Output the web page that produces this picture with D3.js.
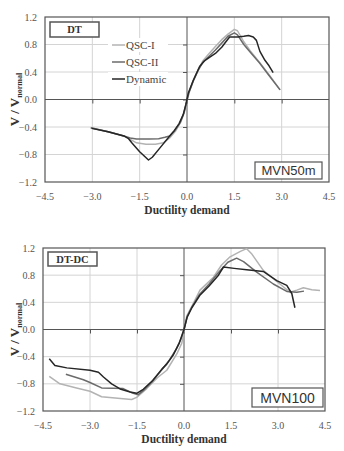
<!DOCTYPE html>
<html><head><meta charset="utf-8">
<script src="https://cdn.jsdelivr.net/npm/d3@7"></script>
<style>html,body{margin:0;padding:0;background:#fff}svg{display:block}</style>
</head><body>
<svg id="c" width="344" height="451"></svg>
<script>
// ---------- DATA ----------
const xTicks = [-4.5, -3.0, -1.5, 0.0, 1.5, 3.0, 4.5];
const yTicks = [-1.2, -0.8, -0.4, 0.0, 0.4, 0.8, 1.2];
const seriesNames = ["QSC-I", "QSC-II", "Dynamic"];

// Chart 1: DT, MVN50m  [ductility, V/Vnormal]
const dt_qsc1 = [[-3.05,-0.41],[-2.5,-0.47],[-2.0,-0.53],[-1.8,-0.58],[-1.6,-0.63],[-1.3,-0.65],[-1.0,-0.65],[-0.75,-0.63],[-0.55,-0.56],[-0.35,-0.45],[-0.2,-0.33],[-0.08,-0.18],[0,-0.02],[0.08,0.12],[0.2,0.28],[0.35,0.43],[0.5,0.56],[0.7,0.67],[0.9,0.77],[1.1,0.87],[1.3,0.95],[1.5,1.02],[1.6,1.0],[1.8,0.84],[2.0,0.71],[2.3,0.54],[2.6,0.36],[2.95,0.14]];
const dt_qsc2 = [[-3.05,-0.41],[-2.5,-0.47],[-2.0,-0.53],[-1.8,-0.56],[-1.6,-0.575],[-1.2,-0.575],[-0.9,-0.57],[-0.7,-0.55],[-0.55,-0.53],[-0.38,-0.45],[-0.22,-0.34],[-0.1,-0.2],[-0.02,-0.05],[0.06,0.1],[0.2,0.27],[0.35,0.42],[0.5,0.54],[0.7,0.63],[0.9,0.72],[1.1,0.82],[1.3,0.92],[1.5,0.97],[1.6,0.94],[1.8,0.8],[2.0,0.69],[2.3,0.53],[2.6,0.35],[2.95,0.14]];
const dt_dyn = [[-3.02,-0.42],[-2.5,-0.47],[-2.0,-0.53],[-1.85,-0.57],[-1.75,-0.63],[-1.5,-0.76],[-1.22,-0.88],[-1.1,-0.84],[-0.85,-0.7],[-0.6,-0.56],[-0.4,-0.45],[-0.25,-0.35],[-0.12,-0.22],[-0.04,-0.08],[0.04,0.09],[0.2,0.28],[0.4,0.48],[0.55,0.56],[0.7,0.61],[0.9,0.67],[1.1,0.76],[1.3,0.88],[1.35,0.91],[1.6,0.91],[1.8,0.92],[1.95,0.93],[2.1,0.91],[2.2,0.86],[2.31,0.7],[2.47,0.57],[2.6,0.49],[2.73,0.39]];

// Chart 2: DT-DC, MVN100
const dc_qsc1 = [[-4.3,-0.69],[-3.96,-0.8],[-3.43,-0.86],[-3.0,-0.91],[-2.63,-0.99],[-1.94,-1.02],[-1.67,-1.03],[-1.51,-1.0],[-1.19,-0.87],[-0.85,-0.71],[-0.55,-0.6],[-0.23,-0.36],[-0.07,-0.2],[0,-0.02],[0.09,0.2],[0.25,0.34],[0.51,0.58],[0.94,0.77],[1.2,0.95],[1.47,1.07],[1.8,1.15],[2.0,1.19],[2.15,1.12],[2.53,0.87],[3.06,0.67],[3.38,0.55],[3.6,0.58],[3.81,0.615],[4.08,0.585],[4.34,0.575]];
const dc_qsc2 = [[-3.77,-0.66],[-3.21,-0.74],[-3.0,-0.78],[-2.63,-0.86],[-2.26,-0.865],[-1.94,-0.87],[-1.67,-0.93],[-1.46,-0.96],[-1.3,-0.9],[-1.0,-0.76],[-0.7,-0.59],[-0.45,-0.44],[-0.25,-0.29],[-0.1,-0.14],[0,0.0],[0.1,0.19],[0.25,0.33],[0.5,0.52],[0.8,0.67],[1.1,0.84],[1.4,0.99],[1.68,1.05],[1.9,1.0],[2.32,0.845],[2.85,0.67],[3.28,0.56],[3.6,0.55],[3.83,0.565]];
const dc_dyn = [[-4.3,-0.43],[-4.12,-0.53],[-3.74,-0.565],[-3.0,-0.6],[-2.73,-0.63],[-2.57,-0.7],[-2.31,-0.8],[-2.04,-0.875],[-1.72,-0.92],[-1.51,-0.94],[-1.3,-0.88],[-1.0,-0.75],[-0.7,-0.58],[-0.55,-0.51],[-0.35,-0.38],[-0.15,-0.2],[0,0.0],[0.1,0.18],[0.25,0.32],[0.5,0.5],[0.8,0.64],[1.1,0.8],[1.26,0.92],[1.6,0.9],[2.0,0.88],[2.53,0.855],[2.96,0.72],[3.28,0.65],[3.44,0.53],[3.54,0.32]];

const seriesColors = ["#b3b3b3", "#6b6b6b", "#262626"];

// ---------- DRAW ----------
const svg = d3.select("#c");
const serif = "'Liberation Serif','Times New Roman',serif";
const sans = "'Liberation Sans',Arial,sans-serif";

function chart(o) {
  const g = svg.append("g");
  const x = d3.scaleLinear().domain([-4.5, 4.5]).range([o.left, o.right]);
  const y = d3.scaleLinear().domain([-1.2, 1.2]).range([o.bottom, o.top]);

  // grid
  g.append("g").selectAll("line").data(xTicks.filter(d => d !== 0 && Math.abs(d) !== 4.5)).join("line")
    .attr("x1", d => x(d)).attr("x2", d => x(d)).attr("y1", o.top).attr("y2", o.bottom)
    .attr("stroke", "#d4d4d4").attr("stroke-width", 1);
  g.append("g").selectAll("line").data(yTicks.filter(d => d !== 0 && Math.abs(d) !== 1.2)).join("line")
    .attr("x1", o.left).attr("x2", o.right).attr("y1", d => y(d)).attr("y2", d => y(d))
    .attr("stroke", "#d4d4d4").attr("stroke-width", 1);

  // zero axes with ticks
  const xa = g.append("g").attr("transform", `translate(0,${y(0)})`)
    .call(d3.axisBottom(x).tickValues(xTicks.filter(d => Math.abs(d) !== 4.5)).tickSize(4).tickFormat(""));
  xa.select(".domain").remove();
  const ya = g.append("g").attr("transform", `translate(${x(0)},0)`)
    .call(d3.axisLeft(y).tickValues(yTicks.filter(d => Math.abs(d) !== 1.2)).tickSize(4).tickFormat(""));
  ya.select(".domain").remove();
  g.selectAll(".tick line").attr("stroke", "#555");
  g.append("line").attr("x1", o.left).attr("x2", o.right).attr("y1", y(0)).attr("y2", y(0)).attr("stroke", "#555");
  g.append("line").attr("x1", x(0)).attr("x2", x(0)).attr("y1", o.top).attr("y2", o.bottom).attr("stroke", "#555");

  // border
  g.append("rect").attr("x", o.left).attr("y", o.top).attr("width", o.right - o.left).attr("height", o.bottom - o.top)
    .attr("fill", "none").attr("stroke", "#555").attr("stroke-width", 1.2);

  // tick labels
  g.append("g").selectAll("text").data(xTicks).join("text")
    .attr("x", d => x(d)).attr("y", o.bottom + 18).attr("text-anchor", "middle")
    .attr("font-family", serif).attr("font-size", 10).attr("fill", "#555")
    .text(d => d3.format(".1f")(d));
  g.append("g").selectAll("text").data(yTicks).join("text")
    .attr("x", o.left - 8).attr("y", d => y(d) + 3.5).attr("text-anchor", "end")
    .attr("font-family", serif).attr("font-size", 10).attr("fill", "#555")
    .text(d => d3.format(".1f")(d));

  // axis titles
  g.append("text").attr("x", (o.left + o.right) / 2).attr("y", o.bottom + 32).attr("text-anchor", "middle")
    .attr("font-family", serif).attr("font-weight", "bold").attr("font-size", 11.5).attr("fill", "#333")
    .text("Ductility demand");
  const yt = g.append("text").attr("transform", `translate(19,${(o.top + o.bottom) / 2}) rotate(-90)`)
    .attr("text-anchor", "middle").attr("font-family", serif).attr("font-weight", "bold").attr("fill", "#333");
  yt.append("tspan").attr("font-size", 13).text("V / V");
  yt.append("tspan").attr("font-size", 8).attr("dy", 3).text("normal");

  // lines
  const line = d3.line().x(d => x(d[0])).y(d => y(d[1])).curve(d3.curveMonotoneX.constructor ? d3.curveLinear : d3.curveLinear);
  o.series.forEach((s, i) => {
    g.append("path").attr("d", line(s)).attr("fill", "none")
      .attr("stroke", seriesColors[i]).attr("stroke-width", 1.5).attr("stroke-linejoin", "round");
  });

  // label box (top-left)
  g.append("rect").attr("x", o.tag[0]).attr("y", o.tag[1]).attr("width", o.tag[2]).attr("height", o.tag[3])
    .attr("fill", "#fff").attr("stroke", "#555").attr("stroke-width", 1.5);
  g.append("text").attr("x", o.tag[0] + o.tag[2] / 2).attr("y", o.tag[1] + o.tag[3] / 2 + 3.5)
    .attr("text-anchor", "middle").attr("font-family", serif).attr("font-weight", "bold").attr("font-size", 10.5)
    .attr("fill", "#333").text(o.tagText);

  // name box (bottom-right)
  g.append("rect").attr("x", o.name[0]).attr("y", o.name[1]).attr("width", o.name[2]).attr("height", o.name[3])
    .attr("fill", "#fff").attr("stroke", "#555").attr("stroke-width", 1.2);
  g.append("text").attr("x", o.name[0] + o.name[2] / 2).attr("y", o.name[1] + o.name[3] / 2 + o.nameSize * 0.36)
    .attr("text-anchor", "middle").attr("font-family", sans).attr("font-size", o.nameSize)
    .attr("fill", "#333").text(o.nameText);

  // legend
  if (o.legend) {
    const lg = g.append("g");
    seriesNames.forEach((n, i) => {
      const ly = o.legend[1] + i * 17;
      lg.append("rect").attr("x", o.legend[0] - 4).attr("y", ly - 7).attr("width", 60).attr("height", 14).attr("fill", "#fff");
    });
    seriesNames.forEach((n, i) => {
      const ly = o.legend[1] + i * 17;
      lg.append("line").attr("x1", o.legend[0]).attr("x2", o.legend[0] + 13).attr("y1", ly).attr("y2", ly)
        .attr("stroke", seriesColors[i]).attr("stroke-width", 1.5);
      lg.append("text").attr("x", o.legend[0] + 14).attr("y", ly + 4).attr("font-family", serif).attr("font-size", 11)
        .attr("fill", "#444").text(n);
    });
  }
}

chart({left: 45, right: 329, top: 17, bottom: 182,
  series: [dt_qsc1, dt_qsc2, dt_dyn],
  tag: [50, 22, 49, 15], tagText: "DT",
  name: [255, 162, 67, 17], nameText: "MVN50m", nameSize: 13,
  legend: [112, 45]});

chart({left: 43, right: 325, top: 248, bottom: 411,
  series: [dc_qsc1, dc_qsc2, dc_dyn],
  tag: [48, 252, 49, 14], tagText: "DT-DC",
  name: [252, 388, 71, 19], nameText: "MVN100", nameSize: 14,
  legend: null});
</script>
</body></html>
